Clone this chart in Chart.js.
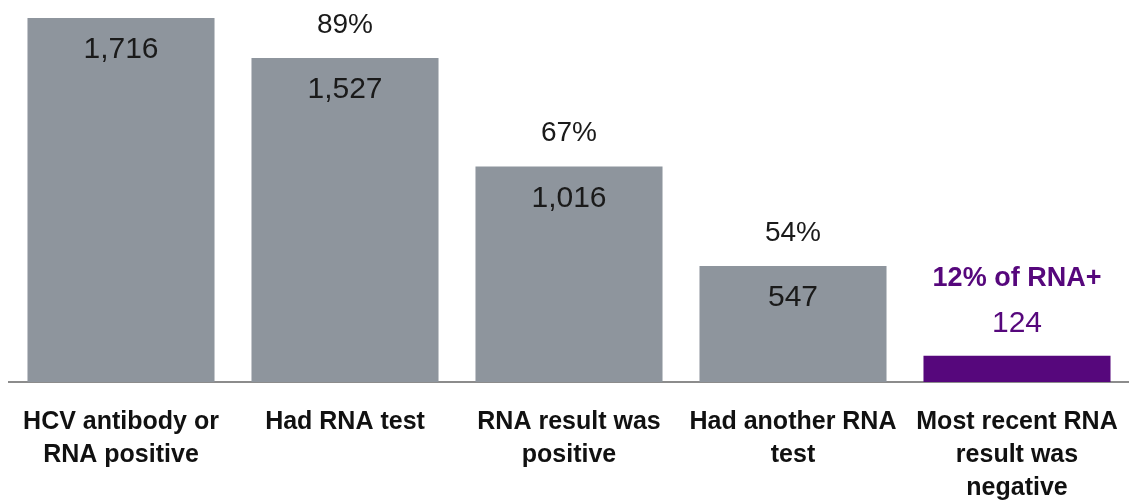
<!DOCTYPE html>
<html>
<head>
<meta charset="utf-8">
<script src="https://cdn.jsdelivr.net/npm/chart.js@4"></script>
<style>
  html, body { margin: 0; padding: 0; background: #ffffff; }
  #wrap { width: 1129px; height: 503px; }
</style>
</head>
<body>
<div id="wrap"><canvas id="barChart" width="1129" height="503"></canvas></div>
<script>
const categories = [
  ['HCV antibody or', 'RNA positive'],
  ['Had RNA test'],
  ['RNA result was', 'positive'],
  ['Had another RNA', 'test'],
  ['Most recent RNA', 'result was', 'negative']
];
const counts = [1716, 1527, 1016, 547, 124];
const countLabels = ['1,716', '1,527', '1,016', '547', '124'];
const percentLabels = ['', '89%', '67%', '54%', '12% of RNA+'];

const gray = '#8e959d';
const purple = '#56077c';
const barColors = [gray, gray, gray, gray, purple];
const fontFamily = '"Liberation Sans", Arial, sans-serif';

// draws counts and percentages on or above each bar
const barText = {
  id: 'barText',
  afterDatasetsDraw(chart) {
    const ctx = chart.ctx;
    const bars = chart.getDatasetMeta(0).data;
    ctx.save();
    ctx.textAlign = 'center';
    ctx.textBaseline = 'middle';
    bars.forEach((bar, i) => {
      const last = i === bars.length - 1;
      ctx.fillStyle = last ? purple : '#1a1a1a';
      ctx.font = '30px ' + fontFamily;
      ctx.fillText(countLabels[i], bar.x, last ? bar.y - 32 : bar.y + 32);
      if (percentLabels[i]) {
        ctx.font = (last ? 'bold 27px ' : '28px ') + fontFamily;
        ctx.fillText(percentLabels[i], bar.x, last ? bar.y - 77 : bar.y - 33);
      }
    });
    ctx.restore();
  }
};

new Chart(document.getElementById('barChart'), {
  type: 'bar',
  data: {
    labels: categories,
    datasets: [{
      data: counts,
      backgroundColor: barColors,
      barPercentage: 0.835,
      categoryPercentage: 1
    }]
  },
  options: {
    responsive: false,
    animation: false,
    layout: { padding: { top: 18, left: 9, right: 0, bottom: 0 } },
    plugins: {
      legend: { display: false },
      tooltip: { enabled: false }
    },
    scales: {
      x: {
        grid: { display: false, drawTicks: false },
        border: { display: true, color: '#8c8c8c', width: 2 },
        ticks: {
          color: '#111111',
          padding: 23,
          maxRotation: 0,
          autoSkip: false,
          font: { family: fontFamily, size: 25, weight: 'bold', lineHeight: 1.33 }
        },
        afterFit(scale) {
          scale.height = 121;
          scale.paddingLeft = 0;
          scale.paddingRight = 0;
        }
      },
      y: {
        display: false,
        min: 0,
        max: 1716
      }
    }
  },
  plugins: [barText]
});
</script>
</body>
</html>
